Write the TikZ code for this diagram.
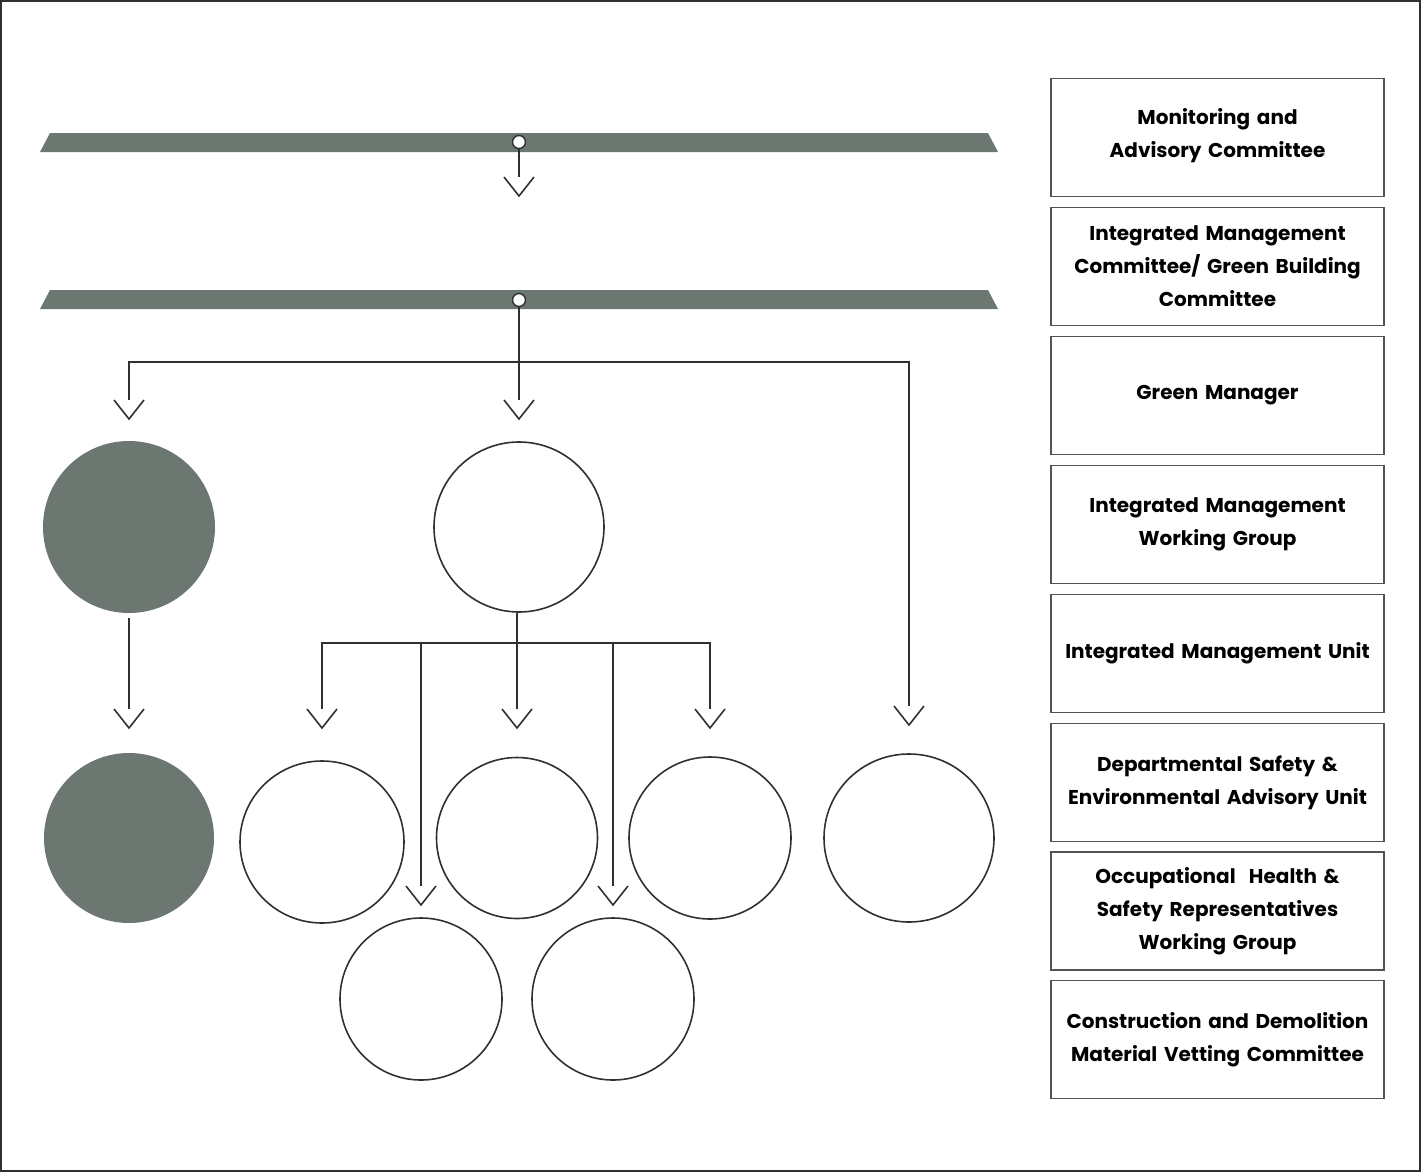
\documentclass[tikz,border=0pt]{standalone}
\usepackage{fontspec}
\usetikzlibrary{shapes.geometric}
\setmainfont{Poppins}[BoldFont={Poppins Bold}]
\definecolor{barc}{RGB}{107,119,112}
\definecolor{linec}{RGB}{45,50,48}
\definecolor{boxc}{RGB}{80,84,82}
\begin{document}
\begin{tikzpicture}[x=1pt,y=-1pt,
  conn/.style={draw=linec, line width=1.6pt},
  hollow/.style={circle, draw=linec, line width=1.6pt, fill=white, inner sep=0pt},
  solid/.style={circle, fill=barc, inner sep=0pt},
  dot/.style={circle, draw=linec, line width=1.4pt, fill=white, minimum size=13pt, inner sep=0pt},
  labelbox/.style={draw=boxc, line width=1.6pt, minimum width=333pt, minimum height=118pt, text width=330pt, align=center, font=\fontsize{20}{33}\selectfont\bfseries, inner sep=0pt},
  vee/.pic={\draw[conn] (-15,-19) -- (0,0) -- (15,-19);}
]
\useasboundingbox (0,0) rectangle (1421,1172);
\draw[draw=linec, line width=1.5pt] (1,1) rectangle (1420,1171);

% bars
\fill[barc] (40,152) -- (50,133) -- (988,133) -- (998,152) -- cycle;
\fill[barc] (40,309) -- (50,290) -- (988,290) -- (998,309) -- cycle;
\node[dot] (d1) at (519,142) {};
\node[dot] (d2) at (519,300) {};

% circles
\node[solid, minimum size=172pt] (g1) at (129,527) {};
\node[solid, minimum size=170pt] (g2) at (129,838) {};
\node[hollow, minimum size=170pt] (c0) at (519,527) {};
\node[hollow, ellipse, minimum width=164pt, minimum height=162pt] (c1) at (322,842) {};
\node[hollow, minimum size=161pt] (c3) at (517,838) {};
\node[hollow, minimum size=162pt] (c5) at (710,838) {};
\node[hollow, ellipse, minimum width=170pt, minimum height=168pt] (c6) at (909,838) {};
\node[hollow, minimum size=162pt] (c2) at (421,999) {};
\node[hollow, minimum size=162pt] (c4) at (613,999) {};

% arrow tips (coordinates at V tips)
\coordinate (t0) at (519,196);
\coordinate (tg1) at (129,419);
\coordinate (tc0) at (519,419);
\coordinate (tc6) at (909,725);
\coordinate (tg2) at (129,728);
\coordinate (tc1) at (322,728);
\coordinate (tc3) at (517,728);
\coordinate (tc5) at (710,728);
\coordinate (tc2) at (421,905);
\coordinate (tc4) at (613,905);
\coordinate (j1) at (519,362);
\coordinate (j2) at (517,643);

% connectors
\draw[conn] (d1.south) -- ([yshift=19pt]t0);
\pic at (t0) {vee};

\draw[conn] (d2.south) -- (j1);
\draw[conn] ([yshift=19pt]tg1) -- (tg1 |- j1) -- (tc6 |- j1) -- ([yshift=19pt]tc6);
\draw[conn] (j1) -- ([yshift=19pt]tc0);
\pic at (tg1) {vee};
\pic at (tc0) {vee};
\pic at (tc6) {vee};

\draw[conn] ([yshift=-5pt]g1.south) -- ([yshift=19pt]tg2);
\pic at (tg2) {vee};

\draw[conn] (c0.south -| j2) -- (j2);
\draw[conn] ([yshift=19pt]tc1) -- (tc1 |- j2) -- (tc5 |- j2) -- ([yshift=19pt]tc5);
\draw[conn] (j2) -- ([yshift=19pt]tc3);
\draw[conn] (tc2 |- j2) -- ([yshift=19pt]tc2);
\draw[conn] (tc4 |- j2) -- ([yshift=19pt]tc4);
\pic at (tc1) {vee};
\pic at (tc3) {vee};
\pic at (tc5) {vee};
\pic at (tc2) {vee};
\pic at (tc4) {vee};

% label boxes
\node[labelbox] (b1) at (1217.5,137.5) {Monitoring and\\Advisory Committee\\[-23pt]\mbox{}};
\node[labelbox] (b2) at (1217.5,266.5) {Integrated Management\\Committee/ Green Building\\Committee};
\node[labelbox] (b3) at (1217.5,395.5) {Green Manager};
\node[labelbox] (b4) at (1217.5,524.5) {Integrated Management\\Working Group};
\node[labelbox] (b5) at (1217.5,653.5) {Integrated Management Unit};
\node[labelbox] (b6) at (1217.5,782.5) {Departmental Safety \&\\Environmental Advisory Unit};
\node[labelbox] (b7) at (1217.5,911) {Occupational~ Health \&\\Safety Representatives\\Working Group};
\node[labelbox] (b8) at (1217.5,1039.5) {Construction and Demolition\\Material Vetting Committee};
\end{tikzpicture}
\end{document}
